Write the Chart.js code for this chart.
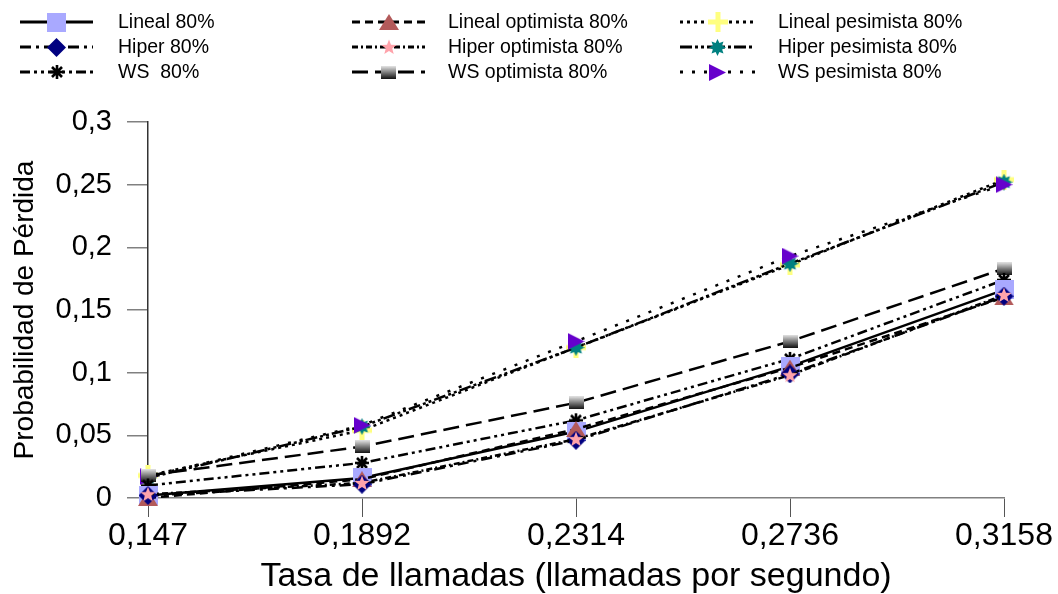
<!DOCTYPE html>
<html>
<head>
<meta charset="utf-8">
<script src="https://cdn.jsdelivr.net/npm/chart.js@4.4.0/dist/chart.umd.min.js"></script>
<style>
    body { margin: 0; background: #fff; }
    #wrap { width: 1058px; height: 594px; }
</style>
</head>
<body>
<div id="wrap"><canvas id="lossChart" width="1058" height="594"></canvas></div>
<script>
// Data
const categories = ['0,147', '0,1892', '0,2314', '0,2736', '0,3158'];
const yTickLabels = ['0', '0,05', '0,1', '0,15', '0,2', '0,25', '0,3'];

const lineal = [0.002, 0.016, 0.053, 0.105, 0.166];
const linealOpt = [0.000, 0.015, 0.055, 0.104, 0.160];
const linealPes = [0.018, 0.054, 0.120, 0.186, 0.254];
const hiper = [0.002, 0.011, 0.046, 0.099, 0.161];
const hiperOpt = [0.003, 0.012, 0.047, 0.098, 0.162];
const hiperPes = [0.016, 0.057, 0.120, 0.187, 0.252];
const ws = [0.010, 0.028, 0.062, 0.111, 0.174];
const wsOpt = [0.018, 0.041, 0.076, 0.125, 0.183];
const wsPes = [0.017, 0.058, 0.125, 0.193, 0.250];

const FONT = '"Liberation Sans", Arial, sans-serif';

// Small canvases used as point markers
function makeMarker(w, h, draw) {
    const c = document.createElement('canvas');
    c.width = w;
    c.height = h;
    draw(c.getContext('2d'), w, h);
    return c;
}

function starPath(g, cx, cy, points, outer, inner) {
    g.beginPath();
    for (let i = 0; i < points * 2; i++) {
        const r = i % 2 === 0 ? outer : inner;
        const a = -Math.PI / 2 + i * Math.PI / points;
        const px = cx + r * Math.cos(a);
        const py = cy + r * Math.sin(a);
        if (i === 0) g.moveTo(px, py); else g.lineTo(px, py);
    }
    g.closePath();
}

const markers = {
    square: makeMarker(19, 19, (g, w, h) => {
        g.fillStyle = '#a9a9ff';
        g.fillRect(0, 0, w, h);
    }),
    diamond: makeMarker(19, 19, (g, w, h) => {
        g.fillStyle = '#000080';
        g.beginPath();
        g.moveTo(w / 2, 0); g.lineTo(w, h / 2); g.lineTo(w / 2, h); g.lineTo(0, h / 2);
        g.closePath();
        g.fill();
    }),
    asterisk: makeMarker(16, 16, (g) => {
        g.strokeStyle = '#000';
        g.lineWidth = 2.6;
        g.beginPath();
        g.moveTo(8, 1); g.lineTo(8, 15);
        g.moveTo(1, 8); g.lineTo(15, 8);
        g.moveTo(3, 3); g.lineTo(13, 13);
        g.moveTo(13, 3); g.lineTo(3, 13);
        g.stroke();
    }),
    triangle: makeMarker(20, 16, (g, w, h) => {
        g.fillStyle = '#b35a5a';
        g.beginPath();
        g.moveTo(w / 2, 0); g.lineTo(w, h); g.lineTo(0, h);
        g.closePath();
        g.fill();
    }),
    pinkStar: makeMarker(16, 16, (g) => {
        g.fillStyle = '#ffa3ab';
        starPath(g, 8, 8.5, 5, 8, 3.4);
        g.fill();
    }),
    gradSquare: makeMarker(15, 13, (g, w, h) => {
        const grad = g.createLinearGradient(0, 0, 0, h);
        grad.addColorStop(0, '#e4e4e4');
        grad.addColorStop(1, '#111');
        g.fillStyle = grad;
        g.fillRect(0, 0, w, h);
    }),
    plus: makeMarker(20, 20, (g) => {
        g.strokeStyle = '#ffff80';
        g.lineWidth = 5;
        g.beginPath();
        g.moveTo(10, 0); g.lineTo(10, 20);
        g.moveTo(0, 10); g.lineTo(20, 10);
        g.stroke();
    }),
    tealStar: makeMarker(17, 17, (g) => {
        g.fillStyle = '#008080';
        starPath(g, 8.5, 8.5, 8, 8.5, 5);
        g.fill();
    }),
    rightTri: makeMarker(17, 17, (g, w, h) => {
        g.fillStyle = '#6600cc';
        g.beginPath();
        g.moveTo(0, 0); g.lineTo(w, h / 2); g.lineTo(0, h);
        g.closePath();
        g.fill();
    })
};

function series(label, data, marker, dash, order) {
    return {
        label: label,
        data: data,
        borderColor: '#000',
        backgroundColor: '#000',
        borderWidth: 2.5,
        borderDash: dash,
        pointStyle: marker,
        pointRadius: 6,
        tension: 0,
        fill: false,
        clip: false,
        order: order
    };
}

// legend order: row by row, three columns
const datasets = [
    series('Lineal 80%', lineal, markers.square, [], 4),
    series('Lineal optimista 80%', linealOpt, markers.triangle, [8, 5], 3),
    series('Lineal pesimista 80%', linealPes, markers.plus, [3, 4], 9),
    series('Hiper 80%', hiper, markers.diamond, [11, 5, 3, 5], 2),
    series('Hiper optimista 80%', hiperOpt, markers.pinkStar, [6, 3, 2, 3], 1),
    series('Hiper pesimista 80%', hiperPes, markers.tealStar, [12, 3, 3, 3, 3, 3], 8),
    series('WS  80%', ws, markers.asterisk, [10, 4, 3, 4, 3, 4], 5),
    series('WS optimista 80%', wsOpt, markers.gradSquare, [16, 7], 6),
    series('WS pesimista 80%', wsPes, markers.rightTri, [3, 9], 7)
];

// Custom legend drawn at the top, in three columns
const legendCols = [{ x0: 20, x1: 93, tx: 118 }, { x0: 352, x1: 425, tx: 448 }, { x0: 680, x1: 755, tx: 778 }];
const legendRows = [22, 47, 72];

const topLegend = {
    id: 'topLegend',
    afterDraw(chart) {
        const ctx = chart.ctx;
        chart.data.datasets.forEach((ds, i) => {
            const col = legendCols[i % 3];
            const y = legendRows[Math.floor(i / 3)];
            ctx.save();
            ctx.strokeStyle = '#000';
            ctx.lineWidth = 3;
            ctx.setLineDash(ds.borderDash);
            ctx.beginPath();
            ctx.moveTo(col.x0, y);
            ctx.lineTo(col.x1, y);
            ctx.stroke();
            ctx.setLineDash([]);
            const img = ds.pointStyle;
            const cx = (col.x0 + col.x1) / 2;
            ctx.drawImage(img, Math.round(cx - img.width / 2), Math.round(y - img.height / 2));
            ctx.fillStyle = '#000';
            ctx.font = '19.5px ' + FONT;
            ctx.textBaseline = 'middle';
            ctx.textAlign = 'left';
            ctx.fillText(ds.label, col.tx, y + 1);
            ctx.restore();
        });
    }
};

Chart.defaults.font.family = FONT;
Chart.defaults.color = '#000';

new Chart(document.getElementById('lossChart'), {
    type: 'line',
    data: { labels: categories, datasets: datasets },
    plugins: [topLegend],
    options: {
        responsive: false,
        animation: false,
        layout: { padding: { top: 122, right: 54, left: 0, bottom: 0 } },
        plugins: {
            legend: { display: false },
            tooltip: { enabled: false }
        },
        scales: {
            x: {
                type: 'category',
                offset: false,
                afterFit: function(scale) { scale.height = 96; },
                grid: {
                    display: true,
                    drawOnChartArea: false,
                    drawTicks: true,
                    tickLength: 19,
                    color: '#555',
                    lineWidth: 1
                },
                border: { display: true, color: '#808080', width: 1.5 },
                ticks: {
                    font: { size: 32, lineHeight: 1.15 },
                    color: '#000',
                    padding: 1,
                    maxRotation: 0,
                    autoSkip: false
                },
                title: {
                    display: true,
                    text: 'Tasa de llamadas (llamadas por segundo)',
                    font: { size: 34, lineHeight: 1.0 },
                    color: '#000',
                    padding: { top: 0, bottom: 0 }
                }
            },
            y: {
                min: 0,
                max: 0.3,
                afterFit: function(scale) { scale.width = 148; },
                ticks: {
                    stepSize: 0.05,
                    font: { size: 29 },
                    color: '#000',
                    padding: 15,
                    callback: function(value, index) {
                        return yTickLabels[index];
                    }
                },
                grid: {
                    display: true,
                    drawOnChartArea: false,
                    drawTicks: true,
                    tickLength: 21,
                    color: '#808080',
                    lineWidth: 1.5
                },
                border: { display: true, color: '#333', width: 1.5 },
                title: {
                    display: true,
                    text: 'Probabilidad de Pérdida',
                    font: { size: 28, lineHeight: 1.2 },
                    color: '#000',
                    padding: { top: 8, bottom: 0 }
                }
            }
        }
    }
});
</script>
</body>
</html>
